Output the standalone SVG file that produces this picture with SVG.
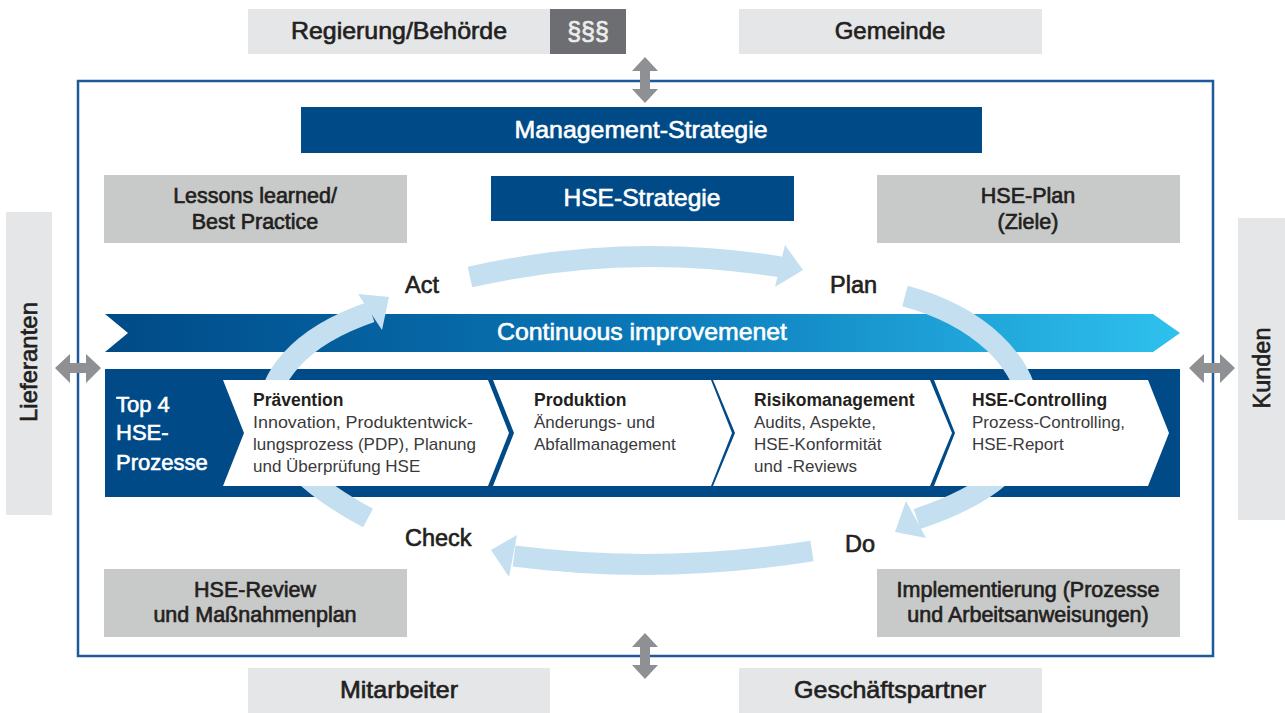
<svg xmlns="http://www.w3.org/2000/svg" width="1285" height="713" viewBox="0 0 1285 713">
<defs>
<style>
text{font-family:"Liberation Sans",Arial,Helvetica,sans-serif}
.med{fill:#231f20;stroke:#231f20;stroke-width:0.65}
.wmed{fill:#ffffff;stroke:#ffffff;stroke-width:0.6}
.lg{fill:#e5e6e8}
.g{fill:#c8c9c9}
.db{fill:#004a87}
.dar{fill:#8e9093}
.arc{fill:none;stroke:#c4dff0;stroke-width:21}
.ah{fill:#c4dff0}
.chev{fill:#ffffff}
.tt{font-weight:bold;font-size:17.5px;fill:#231f20}
.bt{font-size:17px;fill:#3a3a3c}
</style>
<linearGradient id="ci" gradientUnits="userSpaceOnUse" x1="105" y1="0" x2="1180" y2="0">
<stop offset="0" stop-color="#004a87"/>
<stop offset="0.5" stop-color="#0a78b8"/>
<stop offset="1" stop-color="#2ec1ee"/>
</linearGradient>
</defs>
<rect width="1285" height="713" fill="#ffffff"/>

<g id="frame"><rect x="78" y="81" width="1135" height="575" fill="none" stroke="#1d5a9a" stroke-width="2.5"/></g>

<g id="regierung"><rect class="lg" x="248" y="9" width="302" height="45"/><text class="med" x="399" y="39" font-size="24" text-anchor="middle" textLength="216" lengthAdjust="spacingAndGlyphs">Regierung/Behörde</text></g>
<g id="paragraph"><rect x="550" y="9" width="76" height="45" fill="#6d6e71"/><text x="588" y="40" font-size="25" fill="#ececec" stroke="#ececec" stroke-width="0.7" text-anchor="middle">§§§</text></g>
<g id="gemeinde"><rect class="lg" x="739" y="9" width="303" height="45"/><text class="med" x="890" y="39" font-size="24" text-anchor="middle">Gemeinde</text></g>
<g id="mitarbeiter"><rect class="lg" x="248" y="668" width="302" height="45"/><text class="med" x="399" y="698" font-size="24" text-anchor="middle" textLength="118" lengthAdjust="spacingAndGlyphs">Mitarbeiter</text></g>
<g id="geschaeftspartner"><rect class="lg" x="739" y="668" width="303" height="45"/><text class="med" x="890" y="698" font-size="24" text-anchor="middle" textLength="192" lengthAdjust="spacingAndGlyphs">Geschäftspartner</text></g>
<g id="lieferanten"><rect class="lg" x="6" y="212" width="46" height="303"/><text class="med" transform="translate(37,362) rotate(-90)" x="0" y="0" font-size="24" text-anchor="middle">Lieferanten</text></g>
<g id="kunden"><rect class="lg" x="1238" y="218" width="47" height="302"/><text class="med" transform="translate(1270,368) rotate(-90)" x="0" y="0" font-size="23.5" text-anchor="middle">Kunden</text></g>

<g id="management"><rect class="db" x="301" y="107" width="681" height="46"/><text class="wmed" x="641" y="138" font-size="24" text-anchor="middle" textLength="253" lengthAdjust="spacingAndGlyphs">Management-Strategie</text></g>
<g id="hse-strategie"><rect class="db" x="491" y="176" width="303" height="45"/><text class="wmed" x="642" y="206" font-size="24" text-anchor="middle" textLength="157" lengthAdjust="spacingAndGlyphs">HSE-Strategie</text></g>
<g id="lessons"><rect class="g" x="104" y="175" width="303" height="68"/><text class="med" font-size="21.5" text-anchor="middle"><tspan x="255" y="203">Lessons learned/</tspan><tspan x="255" y="229">Best Practice</tspan></text></g>
<g id="hse-plan"><rect class="g" x="877" y="175" width="303" height="68"/><text class="med" font-size="21.5" text-anchor="middle"><tspan x="1028" y="203">HSE-Plan</tspan><tspan x="1028" y="229">(Ziele)</tspan></text></g>
<g id="hse-review"><rect class="g" x="104" y="569" width="303" height="68"/><text class="med" font-size="21.5" text-anchor="middle"><tspan x="255" y="597">HSE-Review</tspan><tspan x="255" y="622">und Maßnahmenplan</tspan></text></g>
<g id="implementierung"><rect class="g" x="877" y="569" width="303" height="68"/><text class="med" font-size="21.5" text-anchor="middle"><tspan x="1028" y="597">Implementierung (Prozesse</tspan><tspan x="1028" y="622">und Arbeitsanweisungen)</tspan></text></g>

<g id="continuous-improvement"><polygon fill="url(#ci)" points="105,314 1153,314 1180,333 1153,352 105,352 128,333"/><text class="wmed" x="642" y="340" font-size="24" text-anchor="middle" textLength="290" lengthAdjust="spacingAndGlyphs">Continuous improvemenet</text></g>

<g id="top4-band"><rect class="db" x="105" y="369" width="1075" height="128"/></g>

<g id="connectors">
<path class="dar" d="M645,57 L658,71 L650,71 L650,89 L658,89 L645,103 L632,89 L640,89 L640,71 L632,71 Z"/>
<path class="dar" d="M645,633 L658,647 L650,647 L650,665 L658,665 L645,679 L632,665 L640,665 L640,647 L632,647 Z"/>
<path class="dar" d="M55,368 L70,354 L70,363 L86,363 L86,354 L101,368 L86,383 L86,373 L70,373 L70,383 Z"/>
<path class="dar" d="M1189,368 L1204,354 L1204,363 L1220,363 L1220,354 L1235,368 L1220,383 L1220,373 L1204,373 L1204,383 Z"/>
<path class="arc" d="M470,277 Q625,242 781,267"/>
<polygon class="ah" points="785,245 803,270 775,287"/>
<path class="arc" d="M905,296 C975,315 1030,360 1030,420 C1030,460 990,495 917,519"/>
<polygon class="ah" points="906,501 895,532 926,538"/>
<path class="arc" d="M812,551 Q660,575 514,556"/>
<polygon class="ah" points="517,535 491,550 509,577"/>
<path class="arc" d="M368,518 C315,490 268,450 268,415 C268,380 295,338 371,312"/>
<polygon class="ah" points="358,294 389,297 382,330"/>
</g>

<g id="top4-label"><text class="wmed" font-size="22"><tspan x="116" y="412">Top 4</tspan><tspan x="116" y="440">HSE-</tspan><tspan x="116" y="470">Prozesse</tspan></text></g>

<g id="praevention"><polygon class="chev" points="223,380 488,380 509,433 488,486 223,486 244,433"/>
<text class="tt" x="253" y="406">Prävention</text>
<text class="bt"><tspan x="253" y="428" textLength="220" lengthAdjust="spacingAndGlyphs">Innovation, Produktentwick-</tspan><tspan x="253" y="450">lungsprozess (PDP), Planung</tspan><tspan x="253" y="472">und Überprüfung HSE</tspan></text></g>
<g id="produktion"><polygon class="chev" points="493,380 711,380 732,433 711,486 493,486 514,433"/>
<text class="tt" x="534" y="406">Produktion</text>
<text class="bt"><tspan x="534" y="428">Änderungs- und</tspan><tspan x="534" y="450">Abfallmanagement</tspan></text></g>
<g id="risikomanagement"><polygon class="chev" points="713,380 930,380 952,433 930,486 713,486 735,433"/>
<text class="tt" x="754" y="406">Risikomanagement</text>
<text class="bt"><tspan x="754" y="428">Audits, Aspekte,</tspan><tspan x="754" y="450">HSE-Konformität</tspan><tspan x="754" y="472">und -Reviews</tspan></text></g>
<g id="hse-controlling"><polygon class="chev" points="934,380 1148,380 1169,433 1148,486 934,486 955,433"/>
<text class="tt" x="972" y="406">HSE-Controlling</text>
<text class="bt"><tspan x="972" y="428">Prozess-Controlling,</tspan><tspan x="972" y="450">HSE-Report</tspan></text></g>

<g id="act"><text class="med" x="405" y="293" font-size="23.5">Act</text></g>
<g id="plan"><text class="med" x="830" y="293" font-size="23.5">Plan</text></g>
<g id="check"><text class="med" x="405" y="546" font-size="23.5">Check</text></g>
<g id="do"><text class="med" x="845" y="552" font-size="23.5">Do</text></g>
</svg>
